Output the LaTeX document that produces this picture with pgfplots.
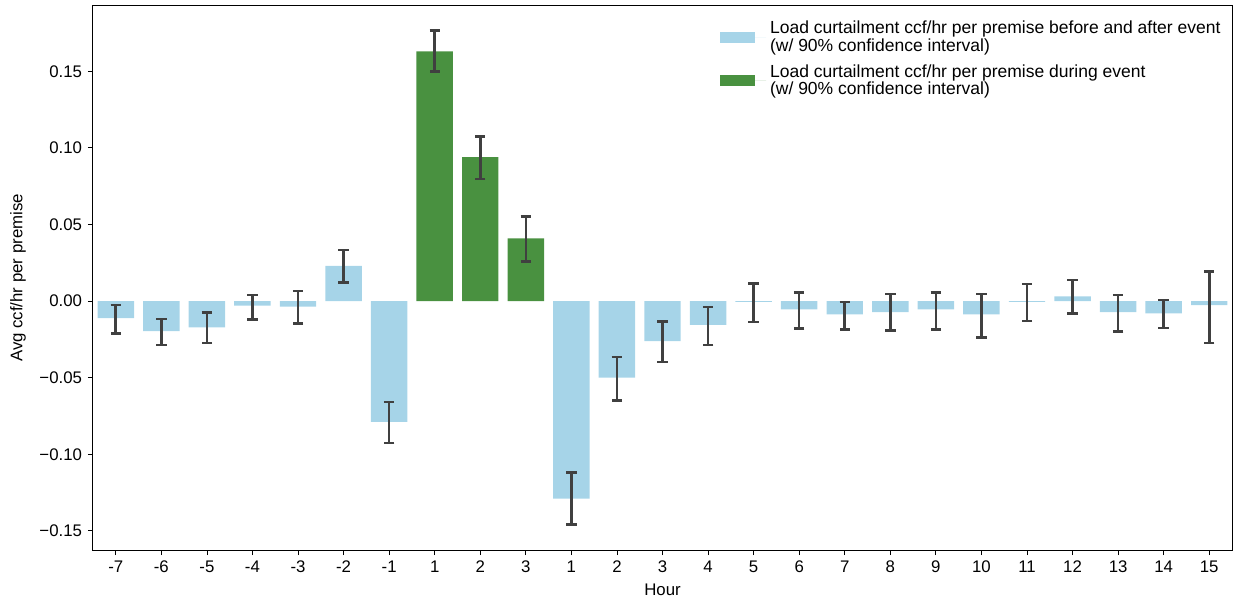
\documentclass[border=0pt]{standalone}
\usepackage{fontspec}
\setmainfont{Liberation Sans}
\usepackage{pgfplots}
\usepackage{pgfplotstable}
\pgfplotsset{compat=1.18}
\definecolor{barblue}{RGB}{166,212,232}
\definecolor{bargreen}{RGB}{73,145,64}
\definecolor{errgray}{RGB}{64,64,64}
\pgfplotstableread{
x y ep em
0 -0.0112 0.0087 0.0100
1 -0.0197 0.0080 0.0090
2 -0.0172 0.0097 0.0102
3 -0.0030 0.0070 0.0090
4 -0.0037 0.0102 0.0108
5 0.0229 0.0105 0.0109
6 -0.0788 0.0130 0.0139
10 -0.1290 0.0170 0.0170
11 -0.0499 0.0135 0.0149
12 -0.0262 0.0130 0.0137
13 -0.0155 0.0115 0.0132
14 -0.0005 0.0120 0.0132
15 -0.0055 0.0110 0.0125
16 -0.0087 0.0082 0.0100
17 -0.0072 0.0119 0.0122
18 -0.0055 0.0110 0.0129
19 -0.0087 0.0132 0.0150
20 -0.0005 0.0117 0.0125
21 0.0030 0.0107 0.0110
22 -0.0072 0.0112 0.0128
23 -0.0080 0.0087 0.0097
24 -0.0027 0.0221 0.0247
}\bluedata
\pgfplotstableread{
x y ep em
7 0.1630 0.0135 0.0130
8 0.0940 0.0135 0.0142
9 0.0409 0.0142 0.0152
}\greendata
\begin{document}
\fontsize{8.4}{8.6}\selectfont
\begin{tikzpicture}
\path[use as bounding box] (0,0) rectangle (619pt,300pt);
\begin{axis}[
  at={(46.5pt,25pt)}, anchor=south west,
  scale only axis, width=569.5pt, height=272pt,
  xmin=-0.5, xmax=24.5, ymin=-0.1625, ymax=0.1926,
  xtick={0,...,24},
  xticklabels={-7,-6,-5,-4,-3,-2,-1,1,2,3,1,2,3,4,5,6,7,8,9,10,11,12,13,14,15},
  ytick={-0.15,-0.1,-0.05,0,0.05,0.1,0.15},
  yticklabels={−0.15,−0.10,−0.05,0.00,0.05,0.10,0.15},
  xtick pos=bottom, ytick pos=left,
  tick align=outside, major tick length=2.5pt,
  tick style={line width=0.4pt, black},
  axis line style={line width=0.5pt},
  ticklabel style={font=\fontsize{8.4}{8.6}\selectfont},
  xlabel={Hour}, ylabel={Avg ccf/hr per premise},
  label style={font=\fontsize{8.4}{8.6}\selectfont},
  xlabel style={at={(axis description cs:0.5,0)}, anchor=center, yshift=-20pt},
  ylabel style={at={(axis description cs:-0.0658,0.5)}, anchor=center},
  ybar, bar width=0.8, bar shift=0pt,
  legend style={draw=none, fill=none, at={(axis description cs:0.999,0.988)}, anchor=north east,
    font=\fontsize{8.75}{8.7}\selectfont, row sep=1.5pt},
  legend cell align=left,
  legend image code/.code={\fill[#1] (0pt,-2.75pt) rectangle (17.5pt,2.75pt); \path (0pt,0pt) -- (23pt,0pt);},
  legend style={nodes={align=left}},
]
\addplot[fill=barblue, draw=none,
  error bars/.cd, y dir=both, y explicit, error mark=|,
  error bar style={line width=1.3pt, errgray},
  error mark options={line width=1.3pt, errgray, mark size=2.6pt}]
  table[x=x, y=y, y error plus=ep, y error minus=em]{\bluedata};
\addlegendentry{Load curtailment ccf/hr per premise before and after event\\(w/ 90\% confidence interval)}
\addplot[fill=bargreen, draw=none,
  error bars/.cd, y dir=both, y explicit, error mark=|,
  error bar style={line width=1.3pt, errgray},
  error mark options={line width=1.3pt, errgray, mark size=2.6pt}]
  table[x=x, y=y, y error plus=ep, y error minus=em]{\greendata};
\addlegendentry{Load curtailment ccf/hr per premise during event\\(w/ 90\% confidence interval)}
\end{axis}
\end{tikzpicture}
\end{document}
